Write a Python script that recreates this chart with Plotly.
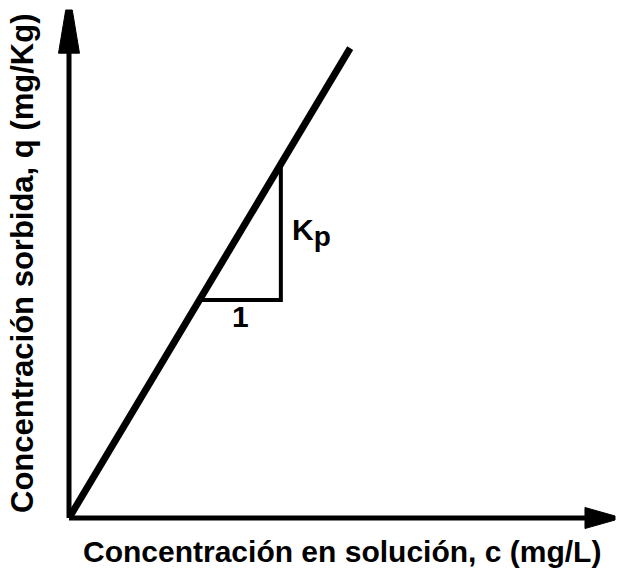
import plotly.graph_objects as go

# Linear sorption isotherm q = Kp * c
c_line = [0, 5.15]
q_line = [0, 9.25]

# Slope triangle (run of 1, rise of Kp)
tri_c = [2.4, 3.88, 3.88]
tri_q = [4.29, 4.29, 6.97]

x_title = "Concentración en solución, c (mg/L)"
y_title = "Concentración sorbida, q (mg/Kg)"
run_label = "1"
rise_label = "K<sub><span style='font-size:28px'>p</span></sub>"

FONT = "Liberation Sans, Arial, Helvetica, sans-serif"

fig = go.Figure()
fig.add_trace(go.Scatter(x=c_line, y=q_line, mode="lines",
                         line=dict(color="black", width=7), hoverinfo="skip"))
fig.add_trace(go.Scatter(x=tri_c, y=tri_q, mode="lines",
                         line=dict(color="black", width=4), hoverinfo="skip"))

# Axes drawn as arrows
shapes = [
    dict(type="line", xref="paper", yref="paper", x0=0, y0=0, x1=0, y1=0.93,
         line=dict(color="black", width=5)),
    dict(type="line", xref="paper", yref="paper", x0=0, y0=0, x1=0.96, y1=0,
         line=dict(color="black", width=5)),
    dict(type="path", xref="paper", yref="paper",
         path="M -0.0192 0.915 L -0.006 1 L 0.006 1 L 0.0192 0.915 Z",
         fillcolor="black", line=dict(color="black", width=1)),
    dict(type="path", xref="paper", yref="paper",
         path="M 0.945 -0.0207 L 1 -0.004 L 1 0.004 L 0.945 0.0207 Z",
         fillcolor="black", line=dict(color="black", width=1)),
]

annotations = [
    dict(text=f"<b>{x_title}</b>", xref="paper", yref="paper", x=0.5, y=0,
         xanchor="center", yanchor="middle", yshift=-33, showarrow=False,
         font=dict(family=FONT, size=30, color="black")),
    dict(text=f"<b>{y_title}</b>", xref="paper", yref="paper", x=0, y=0.5,
         xanchor="center", yanchor="middle", xshift=-47, textangle=-90,
         showarrow=False, font=dict(family=FONT, size=31, color="black")),
    dict(text=f"<b>{run_label}</b>", x=(tri_c[0] + tri_c[1]) / 2, y=tri_q[0],
         xanchor="center", yanchor="top", yshift=2, showarrow=False,
         font=dict(family=FONT, size=30, color="black")),
    dict(text=f"<b>{rise_label}</b>", x=tri_c[1], y=(tri_q[1] + tri_q[2]) / 2,
         xanchor="left", yanchor="middle", xshift=9, showarrow=False,
         font=dict(family=FONT, size=30, color="black")),
]

fig.update_layout(
    width=620, height=570,
    margin=dict(l=69, r=5, t=10, b=52),
    paper_bgcolor="white", plot_bgcolor="white",
    showlegend=False,
    xaxis=dict(range=[0, 10], showgrid=False, zeroline=False, showline=False,
               showticklabels=False, ticks=""),
    yaxis=dict(range=[0, 10], showgrid=False, zeroline=False, showline=False,
               showticklabels=False, ticks=""),
    shapes=shapes,
    annotations=annotations,
)

fig.write_html("out.html")
